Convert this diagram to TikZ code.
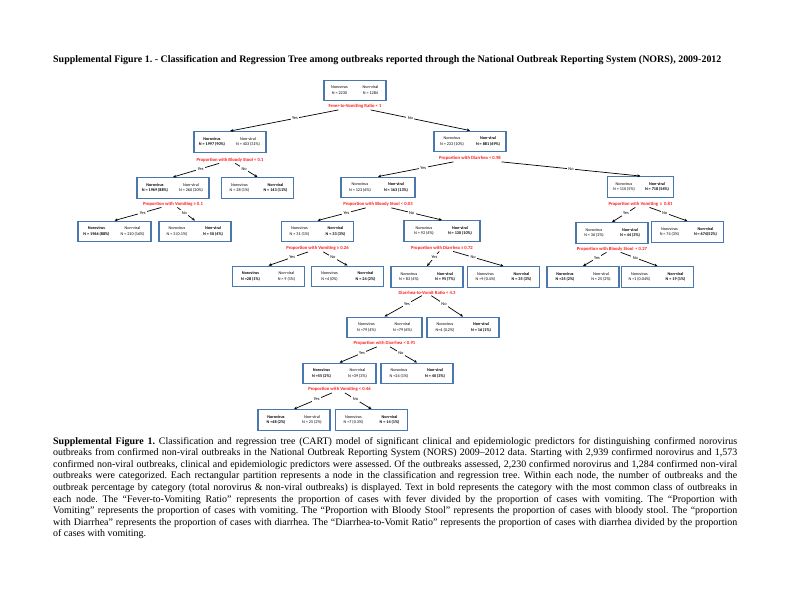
\documentclass[tikz,border=0pt]{standalone}
\usepackage{fontspec}
\setmainfont{Liberation Serif}
\newfontfamily\calfont{Carlito}
\usetikzlibrary{arrows.meta,positioning,calc}
\definecolor{boxblue}{HTML}{4A78AE}
\definecolor{splitred}{HTML}{FF1A1A}
\tikzset{
  treebox/.style={
    draw=boxblue,
    line width=1.4bp,
    fill=white,
    minimum width=71bp,
    minimum height=20.5bp,
    inner sep=0pt,
    font=\calfont\fontsize{4.2}{5.4}\selectfont
  },
  splitlab/.style={
    text=splitred,
    inner sep=1bp,
    font=\calfont\bfseries\fontsize{4.7}{5.5}\selectfont
  },
  yesno/.style={
    fill=white,
    inner sep=1.5bp,
    pos=0.4,
    font=\calfont\fontsize{4.4}{5}\selectfont
  },
  edge/.style={
    -{Stealth[length=3.2bp,width=2.8bp]},
    line width=0.7bp
  }
}
\newcommand{\cartcell}[5][36bp]{%
  \makebox[#1]{\begin{tabular}{@{}c@{}}#2\\#3\end{tabular}}%
  \makebox[#1]{\begin{tabular}{@{}c@{}}#4\\#5\end{tabular}}}

\begin{document}
\frenchspacing
\begin{tikzpicture}[x=1bp,y=-1bp]
\useasboundingbox (0,0) rectangle (792,612);

\node[anchor=west, inner sep=0pt, font=\bfseries\fontsize{10}{12}\selectfont] (title) at (53,60)
  {Supplemental Figure 1. - Classification and Regression Tree among outbreaks reported through the National Outbreak Reporting System (NORS), 2009-2012};

% tree nodes
\node[treebox, minimum width=62bp] (all) at (355,90.5) {\cartcell[31bp]{Norovirus}{N = 2230}{Non-viral}{N = 1284}};
\node[splitlab, below=2bp of all] (fvr) {Fever-to-Vomiting Ratio < 1};

\node[treebox] (fvyes) at (230,142) {\cartcell{\textbf{Norovirus}}{\textbf{N = 1997 (90\%)}}{Non-viral}{N = 403 (31\%)}};
\node[splitlab, below=4bp of fvyes] (bsA) {Proportion with Bloody Stool < 0.1};
\node[treebox] (fvno) at (470,141.5) {\cartcell{Norovirus}{N = 233 (10\%)}{\textbf{Non-viral}}{\textbf{N = 881 (69\%)}}};
\node[splitlab, below=3bp of fvno] (drA) {Proportion with Diarrhea < 0.98};

\node[treebox] (bsAyes) at (173,188) {\cartcell{\textbf{Norovirus}}{\textbf{N = 1969 (88\%)}}{Non-viral}{N = 260 (20\%)}};
\node[splitlab, below=2bp of bsAyes] (vmA) {Proportion with Vomiting ≥ 0.1};
\node[treebox] (bsAno) at (257.5,188) {\cartcell{Norovirus}{N = 28 (1\%)}{\textbf{Non-viral}}{\textbf{N = 143 (11\%)}}};

\node[treebox, minimum width=73bp] (vmAyes) at (114.5,231.5) {\cartcell{\textbf{Norovirus}}{\textbf{N = 1966 (88\%)}}{Non-viral}{N = 210 (16\%)}};
\node[treebox] (vmAno) at (195,231.5) {\cartcell{Norovirus}{N = 3 (0.1\%)}{\textbf{Non-viral}}{\textbf{N = 50 (4\%)}}};

\node[treebox, minimum width=74bp] (drAyes) at (378,187.5) {\cartcell{Norovirus}{N = 123 (6\%)}{\textbf{Non-viral}}{\textbf{N = 163 (13\%)}}};
\node[splitlab, below=3bp of drAyes] (bsB) {Proportion with Bloody Stool < 0.03};
\node[treebox, minimum width=66bp] (drAno) at (640.5,187) {\cartcell[33bp]{Norovirus}{N = 110 (5\%)}{\textbf{Non-viral}}{\textbf{N = 718 (56\%)}}};
\node[splitlab, below=3bp of drAno] (vmC) {Proportion with Vomiting \,≥\, 0.81};

\node[treebox] (bsByes) at (317.5,231.5) {\cartcell{Norovirus}{N = 31 (1\%)}{\textbf{Non-viral}}{\textbf{N = 33 (3\%)}}};
\node[splitlab, below=3bp of bsByes] (vmB) {Proportion with Vomiting ≥ 0.26};
\node[treebox, minimum width=76bp] (bsBno) at (442,231) {\cartcell{Norovirus}{N = 92 (4\%)}{\textbf{Non-viral}}{\textbf{N = 130 (10\%)}}};
\node[splitlab, below=3bp of bsBno] (drB) {Proportion with Diarrhea ≥ 0.72};

\node[treebox] (vmByes) at (268.5,276.5) {\cartcell{\textbf{Norovirus}}{\textbf{N =28 (1\%)}}{Non-viral}{N = 9 (1\%)}};
\node[treebox] (vmBno) at (347.5,276.5) {\cartcell{Norovirus}{N =4 (0\%)}{\textbf{Non-viral}}{\textbf{N = 24 (2\%)}}};

\node[treebox] (drByes) at (427,277) {\cartcell{Norovirus}{N = 83 (4\%)}{\textbf{Non-viral}}{\textbf{N = 95 (7\%)}}};
\node[splitlab, below=2bp of drByes] (dvr) {Diarrhea-to-Vomit Ratio < 4.3};
\node[treebox] (drBno) at (503.5,277) {\cartcell{Norovirus}{N =9 (0.4\%)}{\textbf{Non-viral}}{\textbf{N = 35 (3\%)}}};

\node[treebox] (vmCyes) at (612,233) {\cartcell{Norovirus}{N = 36 (2\%)}{\textbf{Non-viral}}{\textbf{N = 44 (3\%)}}};
\node[splitlab, below=2bp of vmCyes] (bsC) {Proportion with Bloody Stool \,< 0.27};
\node[treebox] (vmCno) at (687.5,232) {\cartcell{Norovirus}{N = 74 (3\%)}{\textbf{Non-viral}}{\textbf{N = 674(52\%)}}};

\node[treebox] (bsCyes) at (583,277) {\cartcell{\textbf{Norovirus}}{\textbf{N =35 (2\%)}}{Non-viral}{N = 25 (2\%)}};
\node[treebox] (bsCno) at (657.5,277) {\cartcell{Norovirus}{N =1 (0.04\%)}{\textbf{Non-viral}}{\textbf{N = 19 (1\%)}}};

\node[treebox, minimum width=75bp] (dvryes) at (384.5,327.5) {\cartcell{Norovirus}{N =79 (4\%)}{Non-viral}{N =79 (6\%)}};
\node[splitlab, below=2bp of dvryes] (drC) {Proportion with Diarrhea < 0.91};
\node[treebox] (dvrno) at (463,327.5) {\cartcell{Norovirus}{N=4 (0.2\%)}{\textbf{Non-viral}}{\textbf{N = 16 (1\%)}}};

\node[treebox, minimum width=73bp] (drCyes) at (339.5,373.5) {\cartcell{\textbf{Norovirus}}{\textbf{N =55 (2\%)}}{Non-viral}{N =39 (3\%)}};
\node[splitlab, below=2bp of drCyes] (vmD) {Proportion with Vomiting < 0.46};
\node[treebox] (drCno) at (417,373.5) {\cartcell{Norovirus}{N =24 (1\%)}{\textbf{Non-viral}}{\textbf{N = 40 (3\%)}}};

\node[treebox, minimum width=72bp] (vmDyes) at (294,420) {\cartcell{\textbf{Norovirus}}{\textbf{N =48 (2\%)}}{Non-viral}{N = 25 (2\%)}};
\node[treebox] (vmDno) at (371.5,420) {\cartcell{Norovirus}{N =7 (0.3\%)}{\textbf{Non-viral}}{\textbf{N = 14 (1\%)}}};

% yes / no connectors
\draw[edge] (fvr) -- node[yesno] {Yes} (fvyes.north);
\draw[edge] (fvr) -- node[yesno] {No} (fvno.north);
\draw[edge] (bsA) -- node[yesno] {Yes} (bsAyes.north);
\draw[edge] (bsA) -- node[yesno] {No} (bsAno.north);
\draw[edge] (vmA) -- node[yesno] {Yes} (vmAyes.north);
\draw[edge] (vmA) -- node[yesno] {No} (vmAno.north);
\draw[edge] (drA) -- node[yesno] {Yes} (drAyes.north);
\draw[edge] (drA) -- node[yesno, pos=0.5] {No} (drAno.north);
\draw[edge] (bsB) -- node[yesno] {Yes} (bsByes.north);
\draw[edge] (bsB) -- node[yesno] {No} (bsBno.north);
\draw[edge] (vmB) -- node[yesno] {Yes} (vmByes.north);
\draw[edge] (vmB) -- node[yesno] {No} (vmBno.north);
\draw[edge] (drB) -- node[yesno] {Yes} (drByes.north);
\draw[edge] (drB) -- node[yesno] {No} (drBno.north);
\draw[edge] (vmC) -- node[yesno] {Yes} (vmCyes.north);
\draw[edge] (vmC) -- node[yesno] {No} (vmCno.north);
\draw[edge] (bsC) -- node[yesno] {Yes} (bsCyes.north);
\draw[edge] (bsC) -- node[yesno] {No} (bsCno.north);
\draw[edge] (dvr) -- node[yesno] {Yes} (dvryes.north);
\draw[edge] (dvr) -- node[yesno] {No} (dvrno.north);
\draw[edge] (drC) -- node[yesno] {Yes} (drCyes.north);
\draw[edge] (drC) -- node[yesno] {No} (drCno.north);
\draw[edge] (vmD) -- node[yesno] {Yes} (vmDyes.north);
\draw[edge] (vmD) -- node[yesno] {No} (vmDno.north);

\node[anchor=north west, inner sep=0pt, text width=684bp, align=justify, font=\fontsize{10}{11.6}\selectfont] (caption) at (53,437)
  {\textbf{Supplemental Figure 1.} Classification and regression tree (CART) model of significant clinical and epidemiologic predictors for distinguishing confirmed norovirus\linebreak
  outbreaks from confirmed non-viral outbreaks in the National Outbreak Reporting System (NORS) 2009–2012 data. Starting with 2,939 confirmed norovirus and 1,573\linebreak
  confirmed non-viral outbreaks, clinical and epidemiologic predictors were assessed. Of the outbreaks assessed, 2,230 confirmed norovirus and 1,284 confirmed non-viral\linebreak
  outbreaks were categorized. Each rectangular partition represents a node in the classification and regression tree. Within each node, the number of outbreaks and the\linebreak
  outbreak percentage by category (total norovirus \& non-viral outbreaks) is displayed. Text in bold represents the category with the most common class of outbreaks in\linebreak
  each node. The “Fever-to-Vomiting Ratio” represents the proportion of cases with fever divided by the proportion of cases with vomiting. The “Proportion with\linebreak
  Vomiting” represents the proportion of cases with vomiting. The “Proportion with Bloody Stool” represents the proportion of cases with bloody stool. The “proportion\linebreak
  with Diarrhea” represents the proportion of cases with diarrhea. The “Diarrhea-to-Vomit Ratio” represents the proportion of cases with diarrhea divided by the proportion\linebreak
  of cases with vomiting.};
\end{tikzpicture}
\end{document}
